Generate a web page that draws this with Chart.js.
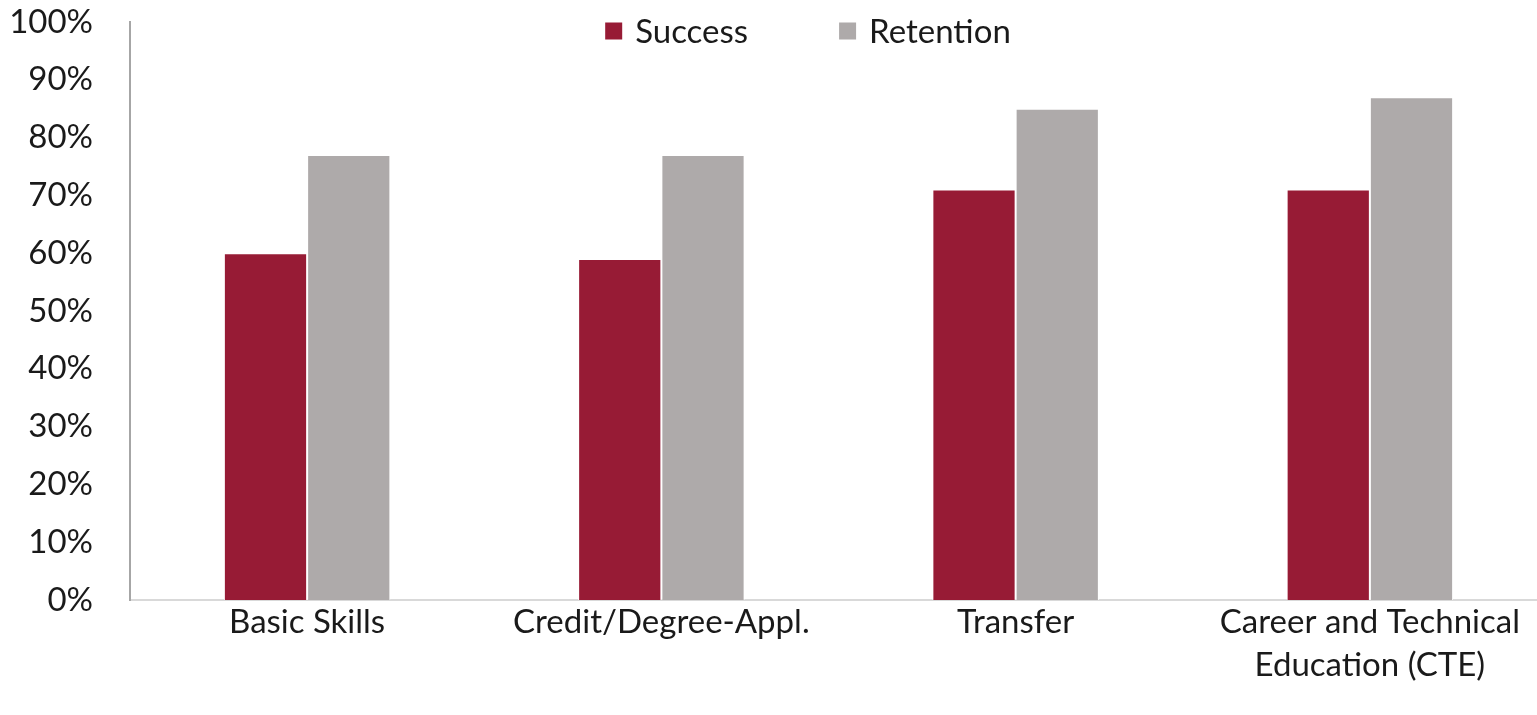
<!DOCTYPE html>
<html>
<head>
<meta charset="utf-8">
<script src="https://cdn.jsdelivr.net/npm/chart.js@4/dist/chart.umd.min.js"></script>
<style>
  html, body { margin: 0; padding: 0; background: #fff; overflow: hidden; }
  #wrap { width: 1547px; height: 715px; position: relative; }
</style>
</head>
<body>
<div id="wrap"><canvas id="programChart"></canvas></div>
<script>
// Chart data
const categories = [
    'Basic Skills',
    'Credit/Degree-Appl.',
    'Transfer',
    ['Career and Technical', 'Education (CTE)']
];
const successRates = [60, 59, 71, 71];
const retentionRates = [77, 77, 85, 87];
const yTicks = [0, 10, 20, 30, 40, 50, 60, 70, 80, 90, 100];

const fontFamily = 'Lato, "Open Sans", sans-serif';
const fontSize = 33;
const textColor = '#1a1a1a';

// simple legend drawn over the top of the plot, like the original
const overlayLegend = {
    id: 'overlayLegend',
    afterDraw(chart) {
        const ctx = chart.ctx;
        const sets = chart.data.datasets;
        const box = 17, gap = 13, spacing = 91;
        ctx.save();
        ctx.font = fontSize + 'px ' + fontFamily;
        ctx.textBaseline = 'middle';
        const widths = sets.map(ds => box + gap + ctx.measureText(ds.label).width);
        const total = widths.reduce((a, b) => a + b, 0) + spacing * (sets.length - 1);
        let x = 808 - total / 2;
        const y = 31;
        sets.forEach((ds, i) => {
            ctx.fillStyle = ds.backgroundColor;
            ctx.fillRect(x, y - box / 2, box, box);
            ctx.fillStyle = textColor;
            ctx.fillText(ds.label, x + box + gap, y + 1);
            x += widths[i] + spacing;
        });
        ctx.restore();
    }
};

new Chart('programChart', {
    type: 'bar',
    data: {
        labels: categories,
        datasets: [{
            label: 'Success',
            data: successRates,
            backgroundColor: '#971b35',
            borderColor: '#ffffff',
            borderWidth: 1,
            categoryPercentage: 0.47,
            barPercentage: 1
        }, {
            label: 'Retention',
            data: retentionRates,
            backgroundColor: '#aeaaaa',
            borderColor: '#ffffff',
            borderWidth: 1,
            categoryPercentage: 0.47,
            barPercentage: 1
        }]
    },
    options: {
        responsive: true,
        maintainAspectRatio: false,
        animation: false,
        layout: { padding: 0 },
        plugins: {
            legend: { display: false },
            tooltip: { enabled: false }
        },
        scales: {
            x: {
                grid: { display: false, drawTicks: false },
                border: { display: true, color: '#d9d9d9', width: 2 },
                ticks: {
                    color: textColor,
                    font: { family: fontFamily, size: fontSize, lineHeight: 1.3 },
                    padding: 1,
                    maxRotation: 0,
                    autoSkip: false
                },
                afterFit(scale) {
                    scale.height = 115;
                    scale.paddingLeft = 0;
                    scale.paddingRight = 0;
                }
            },
            y: {
                min: 0,
                max: 100,
                grid: { display: false, drawTicks: false },
                border: { display: true, color: '#a6a6a6', width: 2 },
                afterBuildTicks(scale) {
                    scale.ticks = yTicks.map(v => ({ value: v }));
                },
                ticks: {
                    color: textColor,
                    font: { family: fontFamily, size: fontSize },
                    padding: 37,
                    callback: v => v + '%'
                },
                afterFit(scale) {
                    scale.width = 130;
                    scale.paddingTop = 22;
                    scale.paddingBottom = 0;
                }
            }
        }
    },
    plugins: [overlayLegend]
});
</script>
</body>
</html>
